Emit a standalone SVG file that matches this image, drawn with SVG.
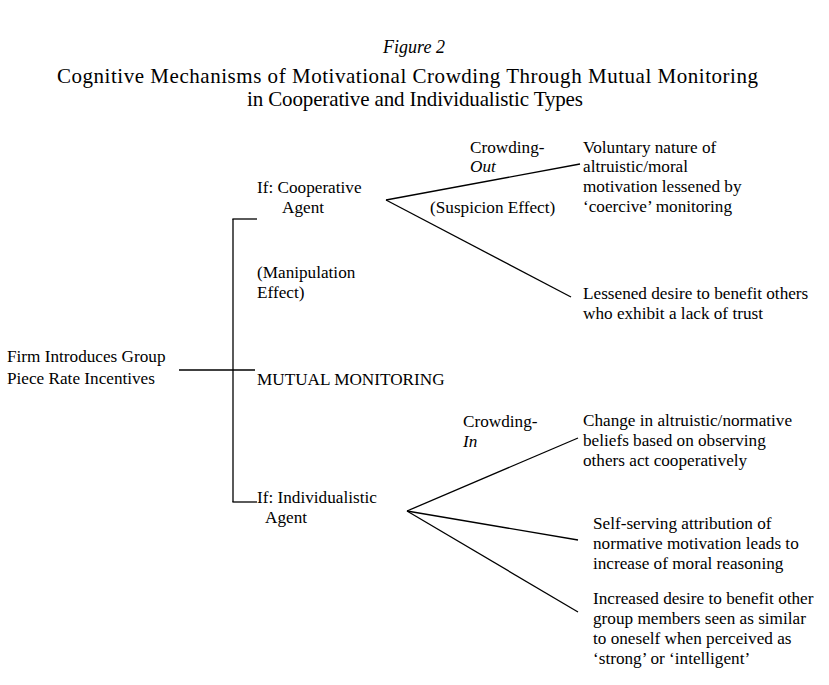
<svg xmlns="http://www.w3.org/2000/svg" width="829" height="685" viewBox="0 0 829 685">
<style>
text { font-family: "Liberation Serif", "Times New Roman", serif; fill: #000; }
.t { font-size: 17.2px; }
.h { font-size: 21px; }
.i { font-style: italic; }
.c line { stroke: #000; stroke-width: 1.3; fill: none; }
</style>
<rect width="829" height="685" fill="#fff"/>
<g id="title">
<text class="i" x="414" y="53" style="font-size:18px" text-anchor="middle">Figure 2</text>
<text class="h" x="57" y="83" textLength="701" lengthAdjust="spacing">Cognitive Mechanisms of Motivational Crowding Through Mutual Monitoring</text>
<text class="h" x="247" y="106" textLength="336" lengthAdjust="spacing">in Cooperative and Individualistic Types</text>
</g>
<g class="c" id="connectors">
<line x1="179" y1="370" x2="255" y2="370"/>
<line x1="233" y1="219" x2="233" y2="502"/>
<line x1="232.4" y1="219" x2="257" y2="219"/>
<line x1="232.4" y1="502" x2="257" y2="502"/>
<line x1="386" y1="200" x2="580" y2="164"/>
<line x1="386" y1="200" x2="571" y2="297"/>
<line x1="407" y1="511" x2="578" y2="438"/>
<line x1="407" y1="511" x2="578" y2="540"/>
<line x1="407" y1="511" x2="578" y2="612"/>
</g>
<g id="firm">
<text class="t" x="7" y="362">Firm Introduces Group</text>
<text class="t" x="7" y="384">Piece Rate Incentives</text>
</g>
<g id="mutual">
<text class="t" x="257" y="385">MUTUAL MONITORING</text>
</g>
<g id="cooperative">
<text class="t" x="257" y="193">If: Cooperative</text>
<text class="t" x="282" y="213">Agent</text>
</g>
<g id="manipulation">
<text class="t" x="257" y="278">(Manipulation</text>
<text class="t" x="257" y="298">Effect)</text>
</g>
<g id="crowding-out">
<text class="t" x="470" y="153">Crowding-</text>
<text class="t i" x="470" y="172">Out</text>
</g>
<g id="suspicion">
<text class="t" x="430" y="213">(Suspicion Effect)</text>
</g>
<g id="voluntary">
<text class="t" x="583" y="153">Voluntary nature of</text>
<text class="t" x="583" y="172">altruistic/moral</text>
<text class="t" x="583" y="192">motivation lessened by</text>
<text class="t" x="583" y="212">‘coercive’ monitoring</text>
</g>
<g id="lessened">
<text class="t" x="583" y="299">Lessened desire to benefit others</text>
<text class="t" x="583" y="319">who exhibit a lack of trust</text>
</g>
<g id="individualistic">
<text class="t" x="257" y="503">If: Individualistic</text>
<text class="t" x="265" y="523">Agent</text>
</g>
<g id="crowding-in">
<text class="t" x="463" y="427">Crowding-</text>
<text class="t i" x="463" y="447">In</text>
</g>
<g id="change">
<text class="t" x="583" y="426">Change in altruistic/normative</text>
<text class="t" x="583" y="446">beliefs based on observing</text>
<text class="t" x="583" y="466">others act cooperatively</text>
</g>
<g id="selfserving">
<text class="t" x="593" y="529">Self-serving attribution of</text>
<text class="t" x="593" y="549">normative motivation leads to</text>
<text class="t" x="593" y="569">increase of moral reasoning</text>
</g>
<g id="increased">
<text class="t" x="593" y="604">Increased desire to benefit other</text>
<text class="t" x="593" y="624">group members seen as similar</text>
<text class="t" x="593" y="644">to oneself when perceived as</text>
<text class="t" x="593" y="664">‘strong’ or ‘intelligent’</text>
</g>
</svg>
